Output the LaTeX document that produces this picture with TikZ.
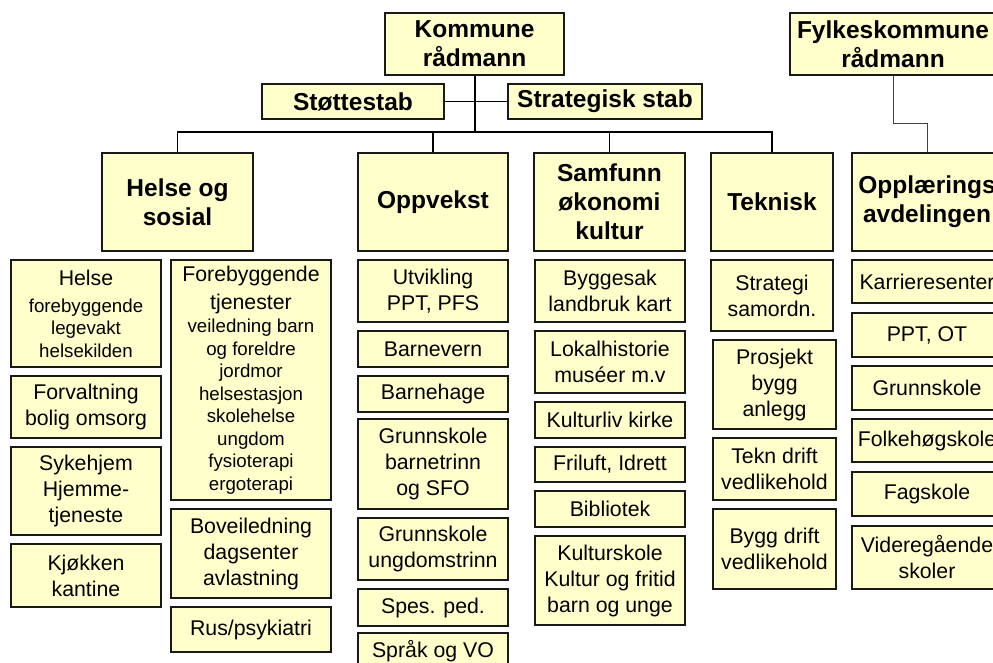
\documentclass[tikz,border=0pt]{standalone}
\usepackage{fontspec}
\setmainfont{Liberation Sans}
\usetikzlibrary{positioning}
\newcommand{\regtxt}{\fontsize{21.3}{26}\selectfont}
\newcommand{\smalltxt}{\fontsize{18.7}{22}\selectfont}
\newcommand{\headtxt}{\fontsize{24.5}{29}\selectfont\bfseries}
\definecolor{boxfill}{HTML}{FFFFCC}
\tikzset{
  unitbox/.style={draw=black!90, line width=1.4pt, fill=boxfill,
    align=center, inner sep=0pt, font=\regtxt},
  headbox/.style={unitbox, font=\headtxt},
  orgline/.style={line width=1.3pt},
}

\begin{document}
\begin{tikzpicture}[x=1pt,y=-1pt]
\useasboundingbox (0,0) rectangle (993,663);
\clip (0,0) rectangle (993,663);

% Top level
\node[headbox, minimum width=179pt, minimum height=62pt] (kommune) at (474.5,44) {Kommune\\rådmann};
\node[headbox, minimum width=182pt, minimum height=35pt] (stottestab) at (353,101.5) {Støttestab};
\node[headbox, minimum width=194pt, minimum height=35pt] (strategisk) at (605,101.5) {Strategisk stab};
\node[headbox, minimum width=206pt, minimum height=62pt] (fylke) at (893,44) {Fylkeskommune\\rådmann};

% Sectors
\node[headbox, minimum width=151pt, minimum height=98pt] (helse) at (177.5,202) {Helse og\\sosial};
\node[headbox, minimum width=150pt, minimum height=98pt] (oppvekst) at (433,202) {Oppvekst};
\node[headbox, minimum width=151pt, minimum height=98pt] (samfunn) at (609.5,202) {Samfunn\\økonomi\\kultur};
\node[headbox, minimum width=122pt, minimum height=98pt] (teknisk) at (772,202) {Teknisk};
\node[headbox, minimum width=150pt, minimum height=98pt] (opplaering) at (927,202) {Opplærings\\avdelingen};

% Helse og sosial
\node[unitbox, minimum width=150pt, minimum height=107pt] (helsetj) at (86,313.5)
  {Helse\\[1pt]\smalltxt forebyggende\\[-3.5pt]\smalltxt legevakt\\[-3.5pt]\smalltxt helsekilden};
\node[unitbox, minimum width=150pt, minimum height=62pt] (forvaltning) at (86,407) {Forvaltning\\bolig omsorg};
\node[unitbox, minimum width=150pt, minimum height=88pt] (sykehjem) at (86,491) {Sykehjem\\Hjemme-\\tjeneste};
\node[unitbox, minimum width=150pt, minimum height=63pt] (kjokken) at (86,575.5) {Kjøkken\\kantine};
\node[unitbox, minimum width=160pt, minimum height=240pt] (forebygg) at (251,380)
  {Forebyggende\\[2pt]tjenester\\[-3pt]\smalltxt veiledning barn\\[-3.5pt]\smalltxt og foreldre\\[-3.5pt]\smalltxt jordmor
   \\[-3.5pt]\smalltxt helsestasjon\\[-3.5pt]\smalltxt skolehelse\\[-3.5pt]\smalltxt ungdom
   \\[-3.5pt]\smalltxt fysioterapi\\[-3.5pt]\smalltxt ergoterapi};
\node[unitbox, minimum width=160pt, minimum height=89pt] (boveiledning) at (251,553.5) {Boveiledning\\dagsenter\\avlastning};
\node[unitbox, minimum width=160pt, minimum height=45pt] (rus) at (251,629.5) {Rus/psykiatri};

% Oppvekst
\node[unitbox, minimum width=150pt, minimum height=62pt] (utvikling) at (433,291) {Utvikling\\PPT, PFS};
\node[unitbox, minimum width=150pt, minimum height=36pt] (barnevern) at (433,349) {Barnevern};
\node[unitbox, minimum width=150pt, minimum height=36pt] (barnehage) at (433,394) {Barnehage};
\node[unitbox, minimum width=150pt, minimum height=90pt] (gsbarn) at (433,464) {Grunnskole\\barnetrinn\\og SFO};
\node[unitbox, minimum width=150pt, minimum height=62pt] (gsungdom) at (433,549) {Grunnskole\\ungdomstrinn};
\node[unitbox, minimum width=150pt, minimum height=37pt] (spesped) at (433,607.5) {Spes. ped.};
\node[unitbox, minimum width=150pt, minimum height=36pt] (sprak) at (433,651) {Språk og VO};

% Samfunn okonomi kultur
\node[unitbox, minimum width=150pt, minimum height=62pt] (byggesak) at (610,291) {Byggesak\\landbruk kart};
\node[unitbox, minimum width=150pt, minimum height=62pt] (lokalhist) at (610,362) {Lokalhistorie\\muséer m.v};
\node[unitbox, minimum width=150pt, minimum height=36pt] (kulturliv) at (610,420) {Kulturliv kirke};
\node[unitbox, minimum width=150pt, minimum height=35pt] (friluft) at (610,464.5) {Friluft, Idrett};
\node[unitbox, minimum width=150pt, minimum height=36pt] (bibliotek) at (610,509) {Bibliotek};
\node[unitbox, minimum width=150pt, minimum height=89pt] (kulturskole) at (610,580.5) {Kulturskole\\Kultur og fritid\\barn og unge};

% Teknisk
\node[unitbox, minimum width=122pt, minimum height=71pt] (strategi) at (772,295.5) {Strategi\\samordn.};
\node[unitbox, minimum width=123pt, minimum height=89pt] (prosjekt) at (774.5,384.5) {Prosjekt\\bygg\\anlegg};
\node[unitbox, minimum width=123pt, minimum height=62pt] (tekndrift) at (774.5,469) {Tekn drift\\vedlikehold};
\node[unitbox, minimum width=123pt, minimum height=80pt] (byggdrift) at (774.5,549) {Bygg drift\\vedlikehold};

% Opplaeringsavdelingen
\node[unitbox, minimum width=150pt, minimum height=43pt] (karriere) at (927,281.5) {Karrieresenter};
\node[unitbox, minimum width=150pt, minimum height=44pt] (pptot) at (927,335) {PPT, OT};
\node[unitbox, minimum width=150pt, minimum height=44pt] (grunnskole) at (927,388) {Grunnskole};
\node[unitbox, minimum width=150pt, minimum height=43pt] (folkehog) at (927,440.5) {Folkehøgskole};
\node[unitbox, minimum width=150pt, minimum height=44pt] (fagskole) at (927,494) {Fagskole};
\node[unitbox, minimum width=150pt, minimum height=63pt] (vgs) at (927,557.5) {Videregående\\skoler};

% Lines
\coordinate (bus) at (474.5,132);
\draw[line width=2pt] (kommune.south) -- (bus);
\draw[orgline] (stottestab) -- (strategisk);
\draw[orgline] (helse.north) |- (bus) -| (teknisk.north);
\draw[orgline] (oppvekst.north) -- (oppvekst.north |- bus);
\draw[orgline] (samfunn.north) -- (samfunn.north |- bus);
\draw[line width=1pt, black!75] (fylke.south) -- ++(0,48) -| (opplaering.north);
\end{tikzpicture}
\end{document}
